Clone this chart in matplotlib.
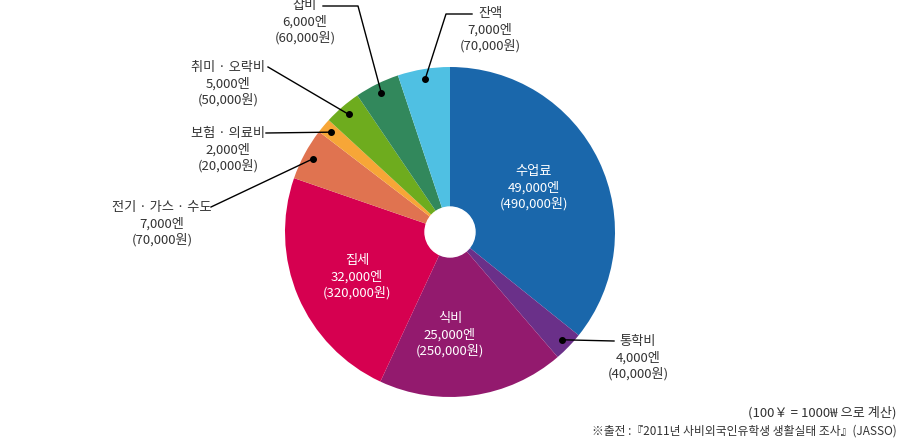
import matplotlib
matplotlib.use("Agg")
import matplotlib.pyplot as plt
import numpy as np

plt.rcParams["font.family"] = ["Noto Sans CJK KR", "DejaVu Sans"]

# data (yen per month), clockwise from 12 o'clock
categories = ["수업료", "통학비", "식비", "집세", "전기 · 가스 · 수도",
              "보험 · 의료비", "취미 · 오락비", "잡비", "잔액"]
yen = [49000, 4000, 25000, 32000, 7000, 2000, 5000, 6000, 7000]
won = [490000, 40000, 250000, 320000, 70000, 20000, 50000, 60000, 70000]
colors = ["#1a67ab", "#6a3089", "#931a6e", "#d60050", "#e07350",
          "#f7a637", "#6eac1e", "#32885c", "#4fc0e3"]

W, H = 900, 440
cx, cy, R = 450, 232, 165


def Y(y):
    # pixel row from top -> data y
    return H - y


fig = plt.figure(figsize=(9, 4.4), dpi=100)
ax = fig.add_axes([0, 0, 1, 1])
wedges, _ = ax.pie(yen, colors=colors, startangle=90, counterclock=False,
                   center=(cx, Y(cy)), radius=R,
                   wedgeprops=dict(linewidth=0))
ax.add_patch(plt.Circle((cx, Y(cy)), 25, color="white", zorder=3))
ax.set_xlim(0, W)
ax.set_ylim(0, H)
ax.set_aspect("equal")
ax.axis("off")


def label_text(i):
    return f"{categories[i]}\n{yen[i]:,}엔\n({won[i]:,}원)"


# inside labels: index -> centre of text block (px)
inside = {0: (534, 188), 3: (357, 277), 2: (450, 335)}
for i, (tx, ty) in inside.items():
    ax.text(tx, Y(ty), label_text(i), ha="center", va="center",
            color="white", fontsize=9.5, linespacing=1.25, zorder=4)

# outside labels: index -> (text centre, leader path from label to dot)
outside = {
    7: ((305, 22), [(323, 6), (358, 6)]),
    8: ((490, 30), [(472, 14), (446, 14)]),
    6: ((228, 84), [(268, 67)]),
    5: ((228, 150), [(266, 133)]),
    4: ((162, 224), [(211, 207)]),
    1: ((638, 358), [(614, 341)]),
}
for i, ((tx, ty), path) in outside.items():
    w = wedges[i]
    mid = np.deg2rad((w.theta1 + w.theta2) / 2)
    dx = cx + 0.94 * R * np.cos(mid)
    dy = Y(cy) + 0.94 * R * np.sin(mid)
    xs = [p[0] for p in path] + [dx]
    ys = [Y(p[1]) for p in path] + [dy]
    ax.plot(xs, ys, color="black", linewidth=1, zorder=5)
    ax.plot(dx, dy, "o", color="black", markersize=4, zorder=6)
    ax.text(tx, Y(ty), label_text(i), ha="center", va="center",
            color="#333333", fontsize=9.5, linespacing=1.25, zorder=4)

ax.text(897, Y(413), "(100￥ = 1000₩ 으로 계산)", ha="right", va="center",
        color="#333333", fontsize=9.5)
ax.text(897, Y(431), "※출전 :『2011년 사비외국인유학생 생활실태 조사』(JASSO)",
        ha="right", va="center", color="#333333", fontsize=8.5)

fig.savefig("out.png", dpi=100)
